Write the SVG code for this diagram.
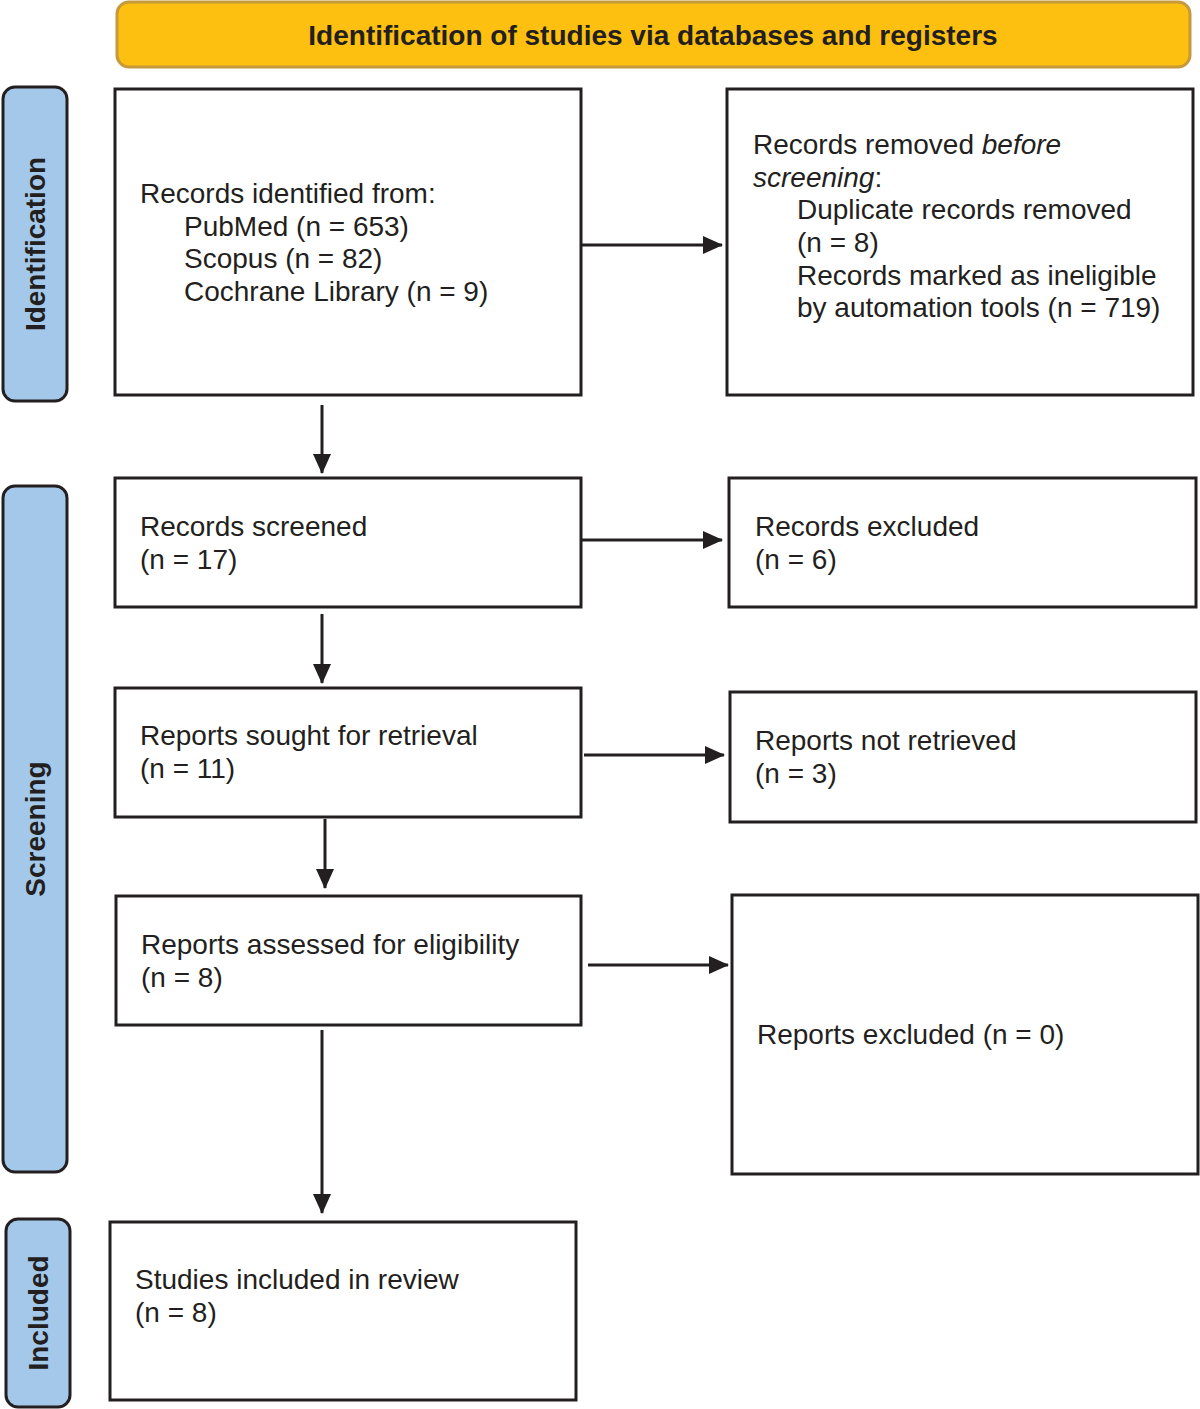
<svg xmlns="http://www.w3.org/2000/svg" width="1200" height="1409" viewBox="0 0 1200 1409">
<defs>
<marker id="ah" markerWidth="20" markerHeight="20" refX="19" refY="10" orient="auto" markerUnits="userSpaceOnUse" viewBox="0 0 20 20">
<path d="M0,1 L20,10 L0,19 Z" fill="#231F20"/>
</marker>
<style>
.box{fill:#fff;stroke:#231F20;stroke-width:3}
.band{fill:#A4C8E9;stroke:#231F20;stroke-width:3}
.t{font-family:"Liberation Sans",Arial,sans-serif;font-size:28px;fill:#231F20}
.b{font-family:"Liberation Sans",Arial,sans-serif;font-size:28px;font-weight:bold;fill:#231F20}
.c{stroke:#231F20;stroke-width:3;fill:none}
</style>
</defs>
<rect width="1200" height="1409" fill="#fff"/>
<g id="header">
<rect x="117" y="2" width="1073" height="65" rx="12" fill="#FDC010" stroke="#C69A3A" stroke-width="3"/>
<text class="b" x="653" y="45" text-anchor="middle">Identification of studies via databases and registers</text>
</g>
<g id="band-identification">
<rect class="band" x="3" y="87" width="64" height="314" rx="12"/>
<text class="b" transform="translate(45,244) rotate(-90)" text-anchor="middle">Identification</text>
</g>
<g id="band-screening">
<rect class="band" x="3" y="486" width="64" height="686" rx="12"/>
<text class="b" transform="translate(45,829) rotate(-90)" text-anchor="middle">Screening</text>
</g>
<g id="band-included">
<rect class="band" x="6" y="1219" width="64" height="188" rx="12"/>
<text class="b" transform="translate(48,1313) rotate(-90)" text-anchor="middle">Included</text>
</g>
<g id="identified">
<rect class="box" x="115" y="89" width="466" height="306"/>
<text class="t" x="140" y="203">Records identified from:</text>
<text class="t" x="184" y="236">PubMed (n = 653)</text>
<text class="t" x="184" y="268">Scopus (n = 82)</text>
<text class="t" x="184" y="301">Cochrane Library (n = 9)</text>
</g>
<g id="removed">
<rect class="box" x="727" y="89" width="466" height="306"/>
<text class="t" x="753" y="154">Records removed <tspan font-style="italic">before</tspan></text>
<text class="t" x="753" y="187"><tspan font-style="italic">screening</tspan>:</text>
<text class="t" x="797" y="219">Duplicate records removed</text>
<text class="t" x="797" y="252">(n = 8)</text>
<text class="t" x="797" y="285">Records marked as ineligible</text>
<text class="t" x="797" y="317">by automation tools (n = 719)</text>
</g>
<g id="screened">
<rect class="box" x="115" y="478" width="466" height="129"/>
<text class="t" x="140" y="536">Records screened</text>
<text class="t" x="140" y="569">(n = 17)</text>
</g>
<g id="excluded">
<rect class="box" x="729" y="478" width="467" height="129"/>
<text class="t" x="755" y="536">Records excluded</text>
<text class="t" x="755" y="569">(n = 6)</text>
</g>
<g id="sought">
<rect class="box" x="115" y="688" width="466" height="129"/>
<text class="t" x="140" y="745">Reports sought for retrieval</text>
<text class="t" x="140" y="778">(n = 11)</text>
</g>
<g id="not-retrieved">
<rect class="box" x="730" y="692" width="466" height="130"/>
<text class="t" x="755" y="750">Reports not retrieved</text>
<text class="t" x="755" y="783">(n = 3)</text>
</g>
<g id="assessed">
<rect class="box" x="116" y="896" width="465" height="129"/>
<text class="t" x="141" y="954">Reports assessed for eligibility</text>
<text class="t" x="141" y="987">(n = 8)</text>
</g>
<g id="reports-excluded">
<rect class="box" x="732" y="895" width="466" height="279"/>
<text class="t" x="757" y="1044">Reports excluded (n = 0)</text>
</g>
<g id="included">
<rect class="box" x="110" y="1222" width="466" height="178"/>
<text class="t" x="135" y="1289">Studies included in review</text>
<text class="t" x="135" y="1322">(n = 8)</text>
</g>
<g id="connectors">
<line class="c" x1="581" y1="245" x2="722" y2="245" marker-end="url(#ah)"/>
<line class="c" x1="322" y1="405" x2="322" y2="473" marker-end="url(#ah)"/>
<line class="c" x1="581" y1="540" x2="722" y2="540" marker-end="url(#ah)"/>
<line class="c" x1="322" y1="614" x2="322" y2="683" marker-end="url(#ah)"/>
<line class="c" x1="584" y1="755" x2="724" y2="755" marker-end="url(#ah)"/>
<line class="c" x1="325" y1="819" x2="325" y2="888" marker-end="url(#ah)"/>
<line class="c" x1="588" y1="965" x2="728" y2="965" marker-end="url(#ah)"/>
<line class="c" x1="322" y1="1030" x2="322" y2="1213" marker-end="url(#ah)"/>
</g>
</svg>
